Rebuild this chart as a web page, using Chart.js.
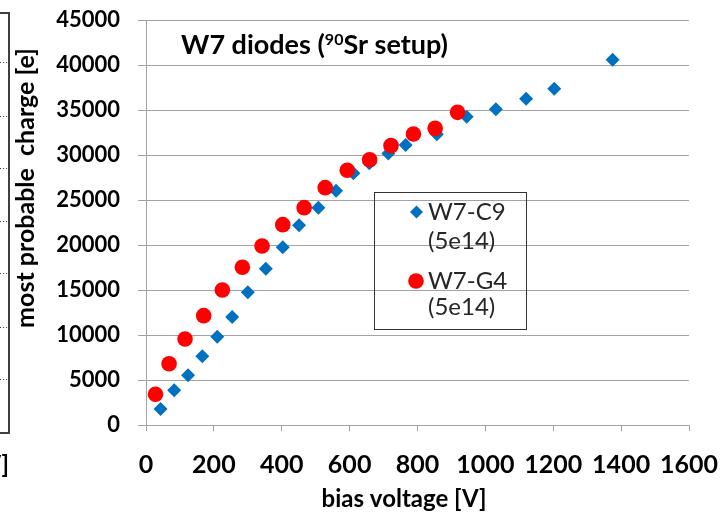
<!DOCTYPE html>
<html>
<head>
<meta charset="utf-8">
<script src="https://cdn.jsdelivr.net/npm/chart.js@4.4.0/dist/chart.umd.min.js"></script>
<style>
  html, body { margin: 0; padding: 0; background: #fff; }
</style>
</head>
<body>
<canvas id="myChart" width="723" height="516"></canvas>
<script>
// bias voltage [V] / most probable charge [e]
const voltsC9 = [43, 83, 124, 166, 210, 254, 300, 353, 403, 451, 508, 560, 611, 658, 714, 765, 857, 945, 1031, 1120, 1203, 1375];
const chargeC9 = [1780, 3850, 5520, 7630, 9810, 12000, 14740, 17370, 19740, 22190, 24150, 26030, 27960, 29070, 30180, 31110, 32300, 34260, 35080, 36260, 37370, 40590];

const voltsG4 = [28, 68, 115, 170, 225, 284, 342, 403, 466, 528, 593, 659, 722, 788, 852, 918];
const chargeG4 = [3410, 6810, 9560, 12150, 15000, 17520, 19890, 22260, 24150, 26370, 28300, 29480, 31040, 32330, 32960, 34740];

const seriesNames = ['W7-C9', 'W7-G4'];
const fluence = '(5e14)';

const xTicks = [0, 200, 400, 600, 800, 1000, 1200, 1400, 1600];
const yTicks = [0, 5000, 10000, 15000, 20000, 25000, 30000, 35000, 40000, 45000];

const FAMILY = 'Lato';
const gridGrey = '#a3a3a3';

const toPoints = (xs, ys) => xs.map((x, i) => ({ x: x, y: ys[i] }));

// fixed axis boxes; labels may spill into the outer padding
const fixBox = (w, h) => s => {
  if (w) s.width = w;
  if (h) s.height = h;
  s.paddingTop = s.paddingBottom = s.paddingLeft = s.paddingRight = 0;
};

// text and frame bits that chart.js can't lay out the way we want
const extras = {
  id: 'extras',
  afterDraw(chart) {
    const c = chart.ctx;
    c.save();

    // edge of the neighbouring panel, clipped at the left
    c.strokeStyle = '#404040';
    c.lineWidth = 2;
    c.beginPath();
    c.moveTo(0, 13); c.lineTo(9, 13); c.lineTo(9, 433); c.lineTo(0, 433);
    c.stroke();
    c.lineWidth = 1;
    c.setLineDash([1, 2]);
    [62, 116, 168, 221, 273, 327, 379].forEach(y => {
      c.beginPath(); c.moveTo(0, y + 0.5); c.lineTo(8, y + 0.5); c.stroke();
    });
    c.setLineDash([]);
    c.fillStyle = '#000';
    c.font = 'bold 24px ' + FAMILY;
    c.textAlign = 'right';
    c.textBaseline = 'middle';
    c.fillText('V]', 9, 465);

    // title with superscript isotope number
    c.textAlign = 'left';
    c.textBaseline = 'alphabetic';
    let x = 181;
    c.font = 'bold 27px ' + FAMILY;
    c.fillText('W7 diodes (', x, 54);
    x += c.measureText('W7 diodes (').width;
    c.font = 'bold 16px ' + FAMILY;
    c.fillText('90', x, 45);
    x += c.measureText('90').width;
    c.font = 'bold 27px ' + FAMILY;
    c.fillText('Sr setup)', x, 54);

    // axis titles
    c.textAlign = 'center';
    c.textBaseline = 'middle';
    c.font = 'bold 24px ' + FAMILY;
    c.fillText('bias voltage [V]', 404, 499);
    c.save();
    c.translate(26, 188);
    c.rotate(-Math.PI / 2);
    c.font = 'bold 25px ' + FAMILY;
    c.fillText('most probable  charge [e]', 0, 0);
    c.restore();

    // legend box
    c.strokeStyle = '#333';
    c.lineWidth = 1;
    c.strokeRect(374.5, 192.5, 152, 137);
    c.fillStyle = '#0070c0';
    c.beginPath();
    c.moveTo(416.5, 205.5); c.lineTo(423, 212); c.lineTo(416.5, 218.5); c.lineTo(410, 212);
    c.closePath(); c.fill();
    c.fillStyle = '#ff0000';
    c.beginPath(); c.arc(416, 281, 7.8, 0, Math.PI * 2); c.fill();
    c.fillStyle = '#262626';
    c.font = '24px ' + FAMILY;
    c.textAlign = 'left';
    c.fillText(seriesNames[0], 428, 212);
    c.fillText(fluence, 428, 241);
    c.fillText(seriesNames[1], 428, 281);
    c.fillText(fluence, 428, 307);

    c.restore();
  }
};

const ctx = document.getElementById('myChart');

new Chart(ctx, {
  type: 'scatter',
  data: {
    datasets: [{
      label: seriesNames[0],
      data: toPoints(voltsC9, chargeC9),
      pointStyle: 'rectRot',
      pointRadius: 7,
      backgroundColor: '#0070c0',
      borderWidth: 0,
      order: 1
    }, {
      label: seriesNames[1],
      data: toPoints(voltsG4, chargeG4),
      pointStyle: 'circle',
      pointRadius: 7.8,
      backgroundColor: '#ff0000',
      borderWidth: 0,
      order: 0
    }]
  },
  options: {
    responsive: false,
    animation: false,
    events: [],
    layout: { autoPadding: false, padding: { top: 20, right: 34, left: 0, bottom: 0 } },
    plugins: {
      legend: { display: false },
      tooltip: { enabled: false }
    },
    scales: {
      x: {
        type: 'linear',
        min: xTicks[0],
        max: xTicks[xTicks.length - 1],
        afterBuildTicks: s => { s.ticks = xTicks.map(v => ({ value: v })); },
        afterFit: fixBox(0, 91),
        ticks: {
          autoSkip: false,
          maxRotation: 0,
          padding: 19,
          color: '#000',
          font: { family: FAMILY, size: 25, weight: 'bold' },
          callback: v => String(v)
        },
        grid: { drawOnChartArea: false, tickLength: 6, color: gridGrey },
        border: { color: gridGrey }
      },
      y: {
        min: yTicks[0],
        max: yTicks[yTicks.length - 1],
        afterBuildTicks: s => { s.ticks = yTicks.map(v => ({ value: v })); },
        afterFit: fixBox(146, 0),
        ticks: {
          autoSkip: false,
          padding: 18,
          color: '#000',
          font: { family: FAMILY, size: 22, weight: 'bold' },
          callback: v => String(v)
        },
        grid: { tickLength: 8, color: gridGrey },
        border: { color: gridGrey }
      }
    }
  },
  plugins: [extras]
});
</script>
</body>
</html>
